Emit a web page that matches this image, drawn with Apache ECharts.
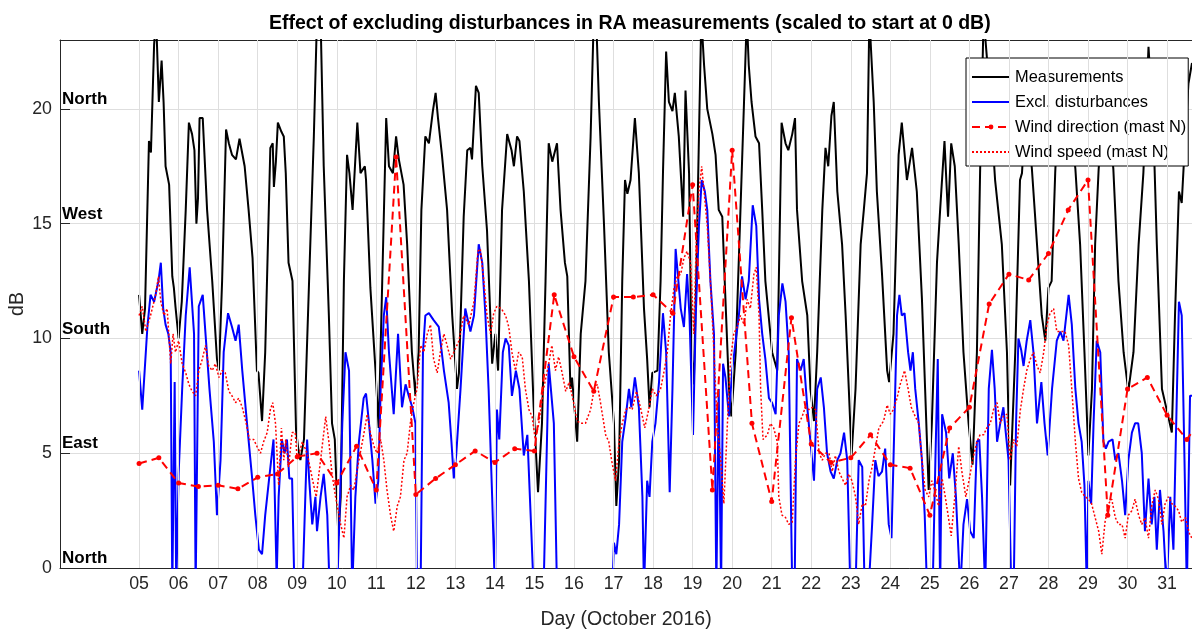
<!DOCTYPE html>
<html>
<head>
<meta charset="utf-8">
<script src="https://cdn.jsdelivr.net/npm/echarts@6/dist/echarts.min.js"></script>
<style>
  html, body { margin: 0; padding: 0; background: #fff; }
  #raChart { width: 1192px; height: 630px; }
</style>
</head>
<body>
<div id="raChart"></div>
<script>
// day of October 2016 -> dB
const dayTicks = [5, 6, 7, 8, 9, 10, 11, 12, 13, 14, 15, 16, 17, 18, 19, 20, 21, 22, 23, 24, 25, 26, 27, 28, 29, 30, 31]
const dirValues = [0, 5, 10, 15, 20]
const dirLabels = ['North', 'East', 'South', 'West', 'North']

const measured = [
  [5.0,11.9],[5.08,10.2],[5.15,11.3],[5.25,18.6],[5.3,18.1],[5.38,22.8],[5.43,24],[5.5,20.3],[5.57,22.1],[5.62,20.3],
  [5.67,17.5],[5.76,16.7],[5.84,12.7],[5.88,12.2],[5.92,11.4],[6.0,10.0],[6.08,11.6],[6.18,15.6],[6.26,19.4],[6.34,18.9],
  [6.4,18.2],[6.45,15.0],[6.49,16.1],[6.53,19.6],[6.61,19.6],[6.72,15.6],[6.85,12.5],[6.97,9.1],[7.02,8.6],[7.1,12.5],
  [7.2,19.1],[7.27,18.5],[7.35,18.0],[7.45,17.8],[7.54,18.7],[7.67,17.5],[7.77,15.6],[7.87,13.5],[7.98,8.6],[8.02,8.5],
  [8.11,6.4],[8.19,9.4],[8.28,15.6],[8.32,18.3],[8.38,18.5],[8.41,16.6],[8.46,17.7],[8.51,19.4],[8.6,19.0],[8.66,18.8],
  [8.71,17.2],[8.78,13.3],[8.88,12.5],[8.97,6.0],[9.04,5.0],[9.08,4.7],[9.17,5.6],[9.3,12.5],[9.42,18.8],[9.5,24],
  [9.59,24],[9.67,17.5],[9.8,11.0],[9.88,6.3],[9.95,5.6],[10.04,1.4],[10.1,3.1],[10.18,12.5],[10.26,18.0],[10.32,17.2],
  [10.4,15.6],[10.52,19.4],[10.6,17.2],[10.71,17.5],[10.74,16.9],[10.85,12.2],[10.98,8.6],[11.06,6.1],[11.15,12.5],[11.25,19.6],
  [11.32,17.5],[11.42,17.2],[11.5,18.8],[11.57,17.8],[11.69,16.7],[11.78,14.1],[11.9,9.4],[11.99,7.5],[12.07,9.4],[12.14,15.6],
  [12.24,18.8],[12.33,18.5],[12.43,19.9],[12.5,20.7],[12.56,19.6],[12.66,18.0],[12.79,15.6],[12.92,11.0],[13.04,7.8],[13.09,8.5],
  [13.21,15.3],[13.3,18.2],[13.38,18.3],[13.42,17.8],[13.52,21.0],[13.59,20.7],[13.68,17.5],[13.8,14.7],[13.93,8.9],[14.01,10.2],
  [14.08,8.6],[14.18,15.6],[14.31,18.9],[14.42,18.2],[14.48,17.5],[14.56,18.8],[14.62,18.6],[14.73,16.4],[14.86,12.5],[14.98,7.0],
  [15.09,3.3],[15.19,6.3],[15.28,12.5],[15.36,18.5],[15.45,17.7],[15.57,18.5],[15.66,15.6],[15.77,13.3],[15.83,12.7],[15.91,7.8],
  [15.95,8.3],[16.08,5.5],[16.17,10.2],[16.29,12.5],[16.42,18.8],[16.5,24],[16.56,24],[16.63,20.3],[16.76,14.9],[16.88,9.4],
  [17.01,6.3],[17.07,2.7],[17.14,4.7],[17.22,12.5],[17.29,16.9],[17.35,16.3],[17.43,16.9],[17.54,19.6],[17.64,17.2],[17.77,11.3],
  [17.85,9.1],[17.91,7.0],[17.98,8.5],[18.11,8.6],[18.19,12.5],[18.25,17.2],[18.33,22.5],[18.4,20.3],[18.49,19.9],[18.55,20.7],
  [18.65,18.8],[18.76,15.3],[18.82,20.8],[18.91,17.2],[18.97,9.4],[19.03,8.0],[19.09,12.5],[19.16,18.8],[19.22,24],[19.29,21.9],
  [19.37,20.0],[19.5,18.9],[19.58,18.0],[19.66,15.6],[19.75,15.3],[19.83,11.7],[19.92,7.8],[19.98,6.6],[20.09,9.4],[20.21,15.6],
  [20.3,20.3],[20.37,24],[20.42,21.9],[20.49,20.3],[20.59,18.8],[20.68,18.5],[20.76,15.6],[20.84,12.5],[21.01,9.4],[21.14,8.6],
  [21.18,12.5],[21.25,19.4],[21.35,18.5],[21.42,18.2],[21.52,18.9],[21.59,19.6],[21.64,15.6],[21.77,12.5],[21.9,11.0],[21.98,7.8],
  [22.07,6.4],[22.15,9.4],[22.28,15.6],[22.36,18.3],[22.43,17.5],[22.51,19.7],[22.57,20.3],[22.66,16.4],[22.78,14.1],[22.87,11.0],
  [22.95,7.8],[23.02,4.9],[23.12,7.8],[23.25,14.1],[23.33,15.6],[23.41,17.2],[23.47,24],[23.58,20.3],[23.66,16.4],[23.79,12.8],
  [23.92,8.6],[23.97,8.1],[24.08,10.2],[24.21,18.0],[24.29,19.4],[24.42,16.9],[24.55,18.3],[24.67,16.4],[24.8,11.7],[24.88,7.8],
  [24.97,3.4],[25.05,6.3],[25.18,13.3],[25.26,15.6],[25.37,18.6],[25.46,15.3],[25.54,18.5],[25.63,17.5],[25.73,14.1],[25.85,9.4],
  [25.98,6.3],[26.08,4.5],[26.19,9.4],[26.27,17.2],[26.36,24],[26.5,21],[26.65,16.9],[26.82,14.1],[26.95,9.4],[27.03,3.6],
  [27.16,9.4],[27.28,16.9],[27.33,17.2],[27.41,19.6],[27.5,19],[27.58,17.4],[27.71,14.1],[27.83,11.0],[27.92,9.9],[28.0,12.2],
  [28.08,12.5],[28.17,17.2],[28.25,20.3],[28.45,21],[28.68,17.4],[28.8,14.1],[28.91,9.4],[29.01,4.9],[29.1,7.8],[29.18,14.1],
  [29.27,17.4],[29.45,21],[29.64,17.4],[29.77,12.5],[29.9,9.4],[30.02,7.7],[30.15,9.4],[30.28,14.1],[30.4,17.2],[30.53,22.7],
  [30.66,18.8],[30.74,14.1],[30.87,7.8],[30.99,6.9],[31.12,5.9],[31.2,11.0],[31.3,16.4],[31.37,15.9],[31.46,18.8],[31.54,21.1],
  [31.63,22]
]

// values below 0 run off the bottom of the axes
const exclDisturbances = [
  [5.0,8.6],[5.08,6.9],[5.21,10.5],[5.29,11.9],[5.38,11.6],[5.49,12.5],[5.55,13.3],[5.61,11.3],[5.67,10.6],[5.74,10.2],
  [5.8,9.4],[5.84,-1],[5.9,8.1],[5.94,-1],[6.0,4.1],[6.09,7.8],[6.18,11.0],[6.28,13.1],[6.39,10.2],[6.43,-1],
  [6.48,-1],[6.51,11.4],[6.61,11.9],[6.68,10.2],[6.78,7.8],[6.89,5.5],[6.97,2.3],[7.06,4.7],[7.14,9.4],[7.25,11.1],
  [7.35,10.5],[7.44,9.9],[7.52,10.6],[7.61,8.6],[7.73,6.3],[7.86,3.9],[7.94,2.3],[8.03,0.8],[8.11,0.6],[8.19,2.3],
  [8.29,3.9],[8.4,5.6],[8.48,-0.5],[8.53,3.1],[8.61,5.6],[8.68,5.0],[8.74,5.6],[8.8,3.9],[8.87,3.9],[8.93,-1],
  [9.13,-1],[9.25,5.6],[9.3,3.9],[9.38,1.9],[9.46,3.1],[9.5,1.6],[9.59,3.1],[9.67,4.1],[9.76,2.3],[9.82,-1],
  [10.01,-1],[10.14,6.3],[10.22,9.4],[10.31,8.6],[10.39,-1],[10.47,3.1],[10.56,5.5],[10.68,7.4],[10.74,7.6],[10.81,6.4],
  [10.9,4.7],[10.98,2.8],[11.05,3.8],[11.11,7.8],[11.19,11.0],[11.25,11.8],[11.32,9.4],[11.44,6.7],[11.55,10.2],[11.65,7.0],
  [11.74,8.0],[11.82,7.5],[11.91,7.0],[11.99,6.3],[12.03,-1],[12.12,-1],[12.18,9.4],[12.24,11.0],[12.33,11.1],[12.45,10.8],
  [12.58,10.5],[12.71,8.6],[12.83,7.2],[12.9,5.5],[12.96,3.9],[13.02,4.9],[13.13,7.8],[13.25,11.3],[13.38,10.3],[13.47,11.0],
  [13.59,14.1],[13.68,13.3],[13.76,11.0],[13.84,7.8],[13.93,3.1],[14.0,-1],[14.05,6.9],[14.11,5.6],[14.2,9.4],[14.27,10.0],
  [14.35,9.7],[14.43,7.5],[14.53,8.6],[14.62,7.8],[14.73,4.9],[14.82,5.8],[14.92,1.6],[14.98,-1],[15.23,-1],[15.36,8.9],
  [15.49,6.3],[15.57,-1],[16.97,-1],[17.01,1.1],[17.07,0.6],[17.14,1.9],[17.22,5.5],[17.31,6.6],[17.39,7.8],[17.45,7.0],
  [17.54,8.3],[17.64,7.0],[17.73,3.1],[17.77,-1],[17.82,-1],[17.85,3.8],[17.91,3.1],[17.98,5.5],[18.06,6.3],[18.15,8.1],
  [18.25,11.1],[18.33,9.4],[18.42,3.3],[18.49,7.8],[18.57,13.9],[18.64,12.5],[18.7,11.3],[18.78,10.5],[18.86,12.8],[18.92,11.0],
  [19.01,5.8],[19.08,11.0],[19.16,14.9],[19.23,16.9],[19.31,16.4],[19.37,15.6],[19.45,12.5],[19.54,10.2],[19.6,-1],[19.66,7.8],
  [19.72,-1],[19.77,8.9],[19.83,8.3],[19.92,6.6],[20.0,8.6],[20.09,9.9],[20.17,11.0],[20.25,12.7],[20.34,11.7],[20.42,12.5],
  [20.52,15.8],[20.61,14.9],[20.68,11.7],[20.76,10.2],[20.84,9.1],[20.93,7.4],[21.01,7.2],[21.1,6.7],[21.18,11.0],[21.27,12.4],
  [21.35,11.6],[21.43,9.4],[21.52,-1],[21.58,-1],[21.64,9.1],[21.73,8.6],[21.81,9.1],[21.9,7.0],[21.98,5.5],[22.07,3.8],
  [22.15,7.8],[22.24,8.3],[22.32,7.0],[22.4,5.0],[22.49,4.2],[22.57,3.9],[22.66,4.7],[22.74,5.0],[22.83,5.9],[22.91,4.7],
  [22.99,-1],[23.12,-1],[23.2,4.7],[23.29,4.4],[23.35,-1],[23.45,-1],[23.54,1.9],[23.62,4.7],[23.7,4.0],[23.79,4.2],
  [23.87,5.2],[23.96,1.9],[24.03,1.3],[24.08,4.7],[24.17,11.0],[24.23,11.9],[24.29,11.0],[24.36,11.1],[24.45,9.4],[24.51,8.6],
  [24.57,9.4],[24.63,7.8],[24.72,6.3],[24.8,4.7],[24.87,2.3],[24.93,-1],[25.07,-1],[25.14,4.7],[25.2,9.1],[25.26,-1],
  [25.31,6.7],[25.41,5.9],[25.49,3.9],[25.58,5.0],[25.66,3.1],[25.77,-1],[25.85,1.9],[25.94,3.0],[26.02,1.6],[26.11,1.3],
  [26.19,5.5],[26.25,5.6],[26.32,3.1],[26.4,-1],[26.49,7.8],[26.57,9.5],[26.64,7.8],[26.7,5.5],[26.78,6.3],[26.86,7.0],
  [26.92,5.9],[26.99,4.7],[27.06,-1],[27.12,-1],[27.18,6.3],[27.24,10.0],[27.31,9.5],[27.37,8.8],[27.45,9.9],[27.54,10.8],
  [27.62,9.4],[27.71,6.3],[27.82,8.1],[27.9,6.3],[27.98,4.9],[28.09,7.8],[28.21,9.9],[28.3,10.3],[28.38,9.9],[28.51,11.9],
  [28.59,10.6],[28.68,7.8],[28.76,6.3],[28.84,5.5],[28.91,3.6],[28.97,-1],[29.01,3.8],[29.08,2.8],[29.14,6.3],[29.22,9.9],
  [29.31,9.4],[29.39,5.5],[29.45,5.2],[29.52,5.5],[29.62,5.6],[29.69,4.7],[29.77,5.0],[29.86,3.8],[29.94,2.3],[30.02,4.7],
  [30.11,5.9],[30.19,6.3],[30.27,6.3],[30.36,5.0],[30.44,1.6],[30.53,3.9],[30.61,1.9],[30.68,3.1],[30.74,0.8],[30.82,3.4],
  [30.91,1.6],[30.99,-1],[31.08,3.1],[31.16,0.8],[31.25,7.8],[31.3,11.6],[31.37,11.0],[31.44,4.7],[31.5,-1],[31.58,7.5],
  [31.65,7.5]
]

const windDirection = [
  [5.0,4.55],[5.5,4.8],[6.0,3.7],[6.5,3.55],[7.0,3.6],[7.5,3.45],[8.0,3.95],[8.5,4.1],[9.0,4.85],[9.5,5.0],
  [10.0,3.7],[10.5,5.3],[11.0,3.4],[11.5,17.9],[12.0,3.2],[12.5,3.9],[13.0,4.5],[13.5,5.1],[14.0,4.6],[14.5,5.2],
  [15.0,5.1],[15.5,11.9],[16.0,9.2],[16.5,7.7],[17.0,11.8],[17.5,11.8],[18.0,11.9],[18.5,11.1],[19.0,16.7],[19.5,3.4],
  [20.0,18.2],[20.5,6.3],[21.0,2.9],[21.5,10.9],[22.0,5.4],[22.5,4.6],[23.0,4.8],[23.5,5.8],[24.0,4.5],[24.5,4.35],
  [25.0,2.3],[25.5,6.1],[26.0,7.0],[26.5,11.5],[27.0,12.8],[27.5,12.55],[28.0,13.7],[28.5,15.6],[29.0,16.9],[29.5,2.3],
  [30.0,7.8],[30.5,8.3],[31.0,6.65],[31.5,5.6],[32.0,6.8]
]

const windSpeed = [
  [5.0,11.0],[5.08,11.4],[5.17,10.3],[5.29,11.0],[5.42,11.9],[5.49,12.7],[5.55,11.6],[5.63,11.0],[5.71,11.3],[5.8,8.9],
  [5.86,10.2],[5.92,9.4],[6.0,9.9],[6.09,8.9],[6.18,8.5],[6.26,8.0],[6.34,7.7],[6.43,7.5],[6.51,8.6],[6.6,9.1],
  [6.68,9.7],[6.76,8.8],[6.85,8.6],[6.93,8.9],[7.02,8.3],[7.1,8.6],[7.18,8.5],[7.27,7.7],[7.35,7.5],[7.44,7.2],
  [7.52,7.4],[7.61,7.0],[7.71,6.3],[7.79,5.6],[7.9,5.6],[7.98,5.3],[8.07,5.0],[8.15,5.5],[8.24,5.9],[8.32,6.9],
  [8.38,7.2],[8.45,6.3],[8.53,3.6],[8.6,6.1],[8.66,4.7],[8.71,5.6],[8.78,4.4],[8.87,5.9],[8.95,5.9],[9.0,4.7],
  [9.13,5.5],[9.25,5.0],[9.38,3.9],[9.48,3.1],[9.59,4.7],[9.72,6.6],[9.8,5.5],[9.88,4.1],[9.97,3.1],[10.1,1.9],
  [10.18,1.3],[10.26,3.1],[10.35,3.6],[10.43,3.4],[10.56,4.7],[10.68,5.8],[10.77,6.7],[10.85,5.9],[10.94,5.3],[11.02,5.0],
  [11.11,5.6],[11.19,4.7],[11.27,3.4],[11.36,2.3],[11.44,1.6],[11.53,2.7],[11.61,3.1],[11.7,4.7],[11.78,5.0],[11.86,6.3],
  [11.95,7.2],[12.03,7.8],[12.12,9.7],[12.2,9.4],[12.29,10.2],[12.37,10.6],[12.45,9.1],[12.54,8.5],[12.62,9.4],[12.71,10.2],
  [12.79,9.7],[12.88,9.1],[12.96,9.4],[13.09,9.9],[13.21,11.0],[13.34,10.6],[13.47,11.6],[13.57,13.8],[13.63,13.9],[13.72,12.5],
  [13.8,11.0],[13.89,10.2],[13.97,11.1],[14.05,11.4],[14.16,11.3],[14.27,11.0],[14.35,10.5],[14.43,9.4],[14.52,8.6],[14.6,9.4],
  [14.69,9.2],[14.77,7.8],[14.86,6.9],[14.94,6.6],[15.02,5.6],[15.11,6.3],[15.23,7.8],[15.36,8.9],[15.44,9.7],[15.53,8.6],
  [15.61,9.2],[15.7,8.5],[15.79,7.7],[15.88,8.1],[15.99,7.2],[16.08,6.4],[16.17,6.3],[16.29,6.3],[16.42,6.9],[16.51,7.8],
  [16.59,8.0],[16.67,7.2],[16.8,5.8],[16.88,5.5],[16.95,4.7],[17.05,3.8],[17.14,5.5],[17.22,6.3],[17.31,6.9],[17.39,7.0],
  [17.47,6.9],[17.58,7.7],[17.68,7.0],[17.79,6.1],[17.9,7.0],[17.98,7.8],[18.08,7.5],[18.19,7.8],[18.27,8.5],[18.36,9.4],
  [18.44,11.0],[18.53,12.2],[18.61,12.7],[18.7,12.8],[18.78,13.5],[18.86,13.8],[18.95,13.3],[19.03,10.2],[19.09,14.1],[19.16,16.4],
  [19.23,17.5],[19.29,16.4],[19.37,14.9],[19.45,12.5],[19.54,9.4],[19.62,6.3],[19.71,4.7],[19.79,2.8],[19.88,6.3],[19.96,9.1],
  [20.04,10.2],[20.13,10.5],[20.21,11.0],[20.3,10.6],[20.38,11.7],[20.46,11.3],[20.55,12.8],[20.61,13.1],[20.68,11.0],[20.72,7.8],
  [20.78,5.6],[20.89,5.8],[20.97,6.3],[21.05,6.1],[21.14,5.5],[21.18,3.1],[21.26,2.3],[21.35,2.2],[21.43,1.9],[21.52,2.0],
  [21.6,4.7],[21.69,6.3],[21.77,6.6],[21.85,7.0],[21.94,6.9],[22.03,7.0],[22.11,6.9],[22.2,5.0],[22.28,4.7],[22.36,5.0],
  [22.45,5.0],[22.53,4.2],[22.61,4.9],[22.7,4.2],[22.78,3.9],[22.87,3.6],[22.95,4.1],[23.03,3.8],[23.12,3.1],[23.2,1.9],
  [23.29,2.8],[23.37,2.7],[23.46,3.8],[23.54,4.4],[23.6,5.0],[23.71,6.1],[23.83,6.4],[23.92,7.1],[24.0,6.7],[24.08,6.9],
  [24.17,7.4],[24.25,8.0],[24.36,8.6],[24.45,7.8],[24.53,7.0],[24.63,6.6],[24.72,6.3],[24.8,4.7],[24.88,3.4],[24.97,3.1],
  [25.05,3.8],[25.14,3.3],[25.22,2.7],[25.31,3.9],[25.39,3.1],[25.47,2.2],[25.54,1.4],[25.63,3.1],[25.73,5.3],[25.81,4.2],
  [25.91,3.1],[26.0,3.9],[26.08,4.7],[26.19,5.5],[26.27,5.8],[26.36,5.8],[26.44,6.1],[26.53,6.3],[26.61,6.9],[26.7,7.2],
  [26.78,6.3],[26.86,6.6],[26.95,6.7],[27.03,4.7],[27.12,5.6],[27.2,5.3],[27.29,6.9],[27.37,7.8],[27.45,8.6],[27.54,9.1],
  [27.62,9.4],[27.71,8.8],[27.79,8.5],[27.88,9.4],[27.96,10.6],[28.04,11.1],[28.13,11.3],[28.21,10.3],[28.32,10.3],[28.42,10.3],
  [28.51,9.7],[28.59,7.8],[28.68,5.5],[28.76,3.9],[28.84,3.3],[28.93,3.1],[29.01,3.0],[29.09,2.8],[29.18,2.2],[29.27,1.6],
  [29.35,0.6],[29.43,2.0],[29.52,2.8],[29.6,3.0],[29.69,2.2],[29.77,1.9],[29.86,1.9],[29.94,1.3],[30.02,2.3],[30.11,2.5],
  [30.19,3.0],[30.28,2.3],[30.36,1.9],[30.44,2.2],[30.53,1.3],[30.61,2.7],[30.7,3.4],[30.78,3.0],[30.87,1.9],[30.95,2.8],
  [31.03,3.1],[31.12,2.8],[31.2,2.7],[31.29,2.5],[31.37,2.0],[31.46,2.2],[31.58,1.4],[31.65,1.3]
]

const xMin = 3
const xMax = 31.63
const font = '"Liberation Sans", Arial, sans-serif'
const axisColor = '#262626'
const gridColor = '#dedede'

const chart = echarts.init(document.getElementById('raChart'))

// legend: plain line samples, only the wind direction keeps its dot
const noDot = { opacity: 0 }

const option = {
  animation: false,
  backgroundColor: '#fff',
  title: {
    text: 'Effect of excluding disturbances in RA measurements (scaled to start at 0 dB)',
    left: 264,
    top: 9,
    textStyle: { fontFamily: font, fontSize: 19.5, fontWeight: 'bold', color: '#000' }
  },
  legend: {
    data: [
      { name: 'Measurements', itemStyle: noDot },
      { name: 'Excl. disturbances', itemStyle: noDot },
      { name: 'Wind direction (mast N)' },
      { name: 'Wind speed (mast N)', itemStyle: noDot }
    ],
    orient: 'vertical',
    left: 966,
    top: 58,
    padding: [11, 2, 6, 5],
    itemWidth: 38,
    itemHeight: 6,
    itemGap: 9,
    backgroundColor: '#fff',
    borderColor: '#000',
    borderWidth: 1,
    textStyle: { fontFamily: font, fontSize: 16.4, color: '#000' }
  },
  grid: { left: 60, right: 0, top: 40, bottom: 62, outerBoundsMode: 'none' },
  xAxis: [
    {
      type: 'value',
      min: xMin,
      max: xMax,
      name: 'Day (October 2016)',
      nameLocation: 'middle',
      nameGap: 42,
      nameMoveOverlap: false,
      nameTextStyle: { fontFamily: font, fontSize: 19.5, color: '#262626' },
      axisLine: { show: true, onZero: false, lineStyle: { color: axisColor, width: 1 } },
      axisTick: { show: true, inside: true, length: 9, customValues: dayTicks, lineStyle: { color: axisColor } },
      axisLabel: {
        customValues: dayTicks,
        margin: 7,
        fontFamily: font,
        fontSize: 17.8,
        color: '#262626',
        formatter: (v) => String(v).padStart(2, '0')
      },
      splitLine: { show: false }
    },
    {
      type: 'value',
      position: 'top',
      min: xMin,
      max: xMax,
      axisLine: { show: true, onZero: false, lineStyle: { color: axisColor, width: 1 } },
      axisTick: { show: true, inside: true, length: 9, customValues: dayTicks, lineStyle: { color: axisColor } },
      axisLabel: { show: false },
      splitLine: { show: false }
    }
  ],
  yAxis: {
    type: 'value',
    min: 0,
    max: 23,
    interval: 5,
    name: 'dB',
    nameLocation: 'middle',
    nameGap: 32,
    nameMoveOverlap: false,
    nameTextStyle: { fontFamily: font, fontSize: 19.5, color: '#262626' },
    axisLine: { show: true, lineStyle: { color: axisColor, width: 1 } },
    axisTick: { show: true, inside: true, length: 10, lineStyle: { color: axisColor } },
    axisLabel: { margin: 8, showMaxLabel: false, fontFamily: font, fontSize: 17.8, color: '#262626' },
    splitLine: { show: true, lineStyle: { color: gridColor, width: 1 } }
  },
  series: [
    {
      name: 'dayGrid',
      type: 'line',
      data: [],
      silent: true,
      z: 1,
      markLine: {
        silent: true,
        symbol: ['none', 'none'],
        label: { show: false },
        lineStyle: { color: gridColor, width: 1, type: 'solid' },
        data: dayTicks.map((d) => ({ xAxis: d }))
      }
    },
    {
      name: 'Measurements',
      type: 'line',
      data: measured,
      symbol: 'none',
      color: '#000',
      lineStyle: { color: '#000', width: 2 },
      z: 3
    },
    {
      name: 'Excl. disturbances',
      type: 'line',
      data: exclDisturbances,
      symbol: 'none',
      color: '#0000ff',
      lineStyle: { color: '#0000ff', width: 2 },
      z: 4
    },
    {
      name: 'Wind direction (mast N)',
      type: 'line',
      data: windDirection,
      symbol: 'circle',
      symbolSize: 5,
      color: '#ff0000',
      itemStyle: { color: '#ff0000' },
      lineStyle: { color: '#ff0000', width: 2, type: [8, 5] },
      z: 5
    },
    {
      name: 'Wind speed (mast N)',
      type: 'line',
      data: windSpeed,
      symbol: 'none',
      color: '#ff0000',
      lineStyle: { color: '#ff0000', width: 1.5, type: [2, 2] },
      z: 6
    }
  ]
}

chart.setOption(option)

// compass labels sit just above their y ticks, inside the axes
const dirGraphics = dirValues.map((v, i) => {
  const p = chart.convertToPixel({ xAxisIndex: 0, yAxisIndex: 0 }, [xMin, v])
  return {
    type: 'text',
    x: p[0] + 2,
    y: p[1] - 1,
    z: 10,
    style: {
      text: dirLabels[i],
      font: 'bold 17px ' + font,
      fill: '#000',
      align: 'left',
      verticalAlign: 'bottom'
    }
  }
})
chart.setOption({ graphic: dirGraphics })
</script>
</body>
</html>
